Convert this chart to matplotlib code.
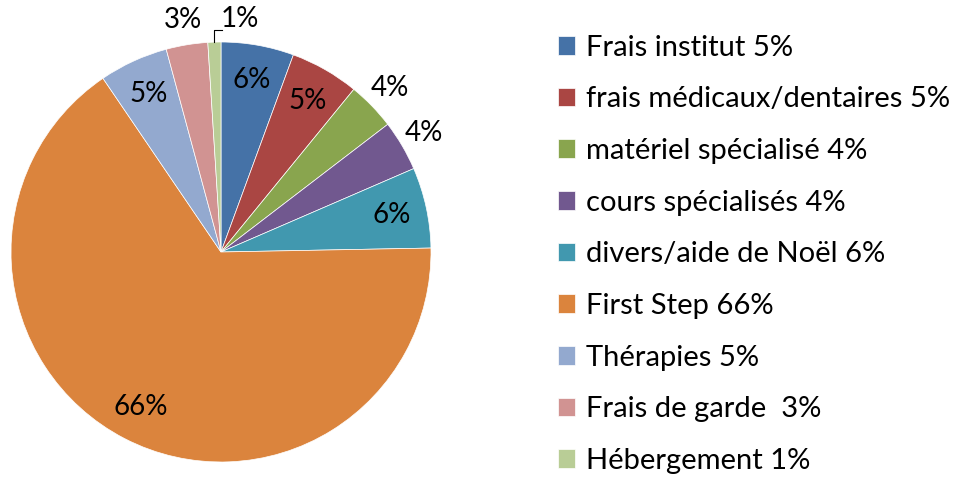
import numpy as np
import matplotlib
matplotlib.use('Agg')
import matplotlib.pyplot as plt

plt.rcParams['font.family'] = ['Lato', 'DejaVu Sans']

postes = ['Frais institut 5%', 'frais médicaux/dentaires 5%', 'matériel spécialisé 4%',
          'cours spécialisés 4%', 'divers/aide de Noël 6%', 'First Step 66%',
          'Thérapies 5%', 'Frais de garde  3%', 'Hébergement 1%']
parts = [5.6, 5.3, 3.7, 3.9, 6.2, 65.8, 5.3, 3.2, 1.0]
couleurs = ['#4572A7', '#AA4643', '#89A54E', '#71588F', '#4198AF',
            '#DB843D', '#93A9CF', '#D19392', '#B9CD96']
# etiquettes hors du camembert pour les petites parts
dehors = [False, False, True, True, False, False, False, True, True]

W, H = 971, 479
fig = plt.figure(figsize=(W / 100, H / 100), dpi=100)
cx, cy, r = 221, 252, 210
ax = fig.add_axes([(cx - r) / W, (H - cy - r) / H, 2 * r / W, 2 * r / H])

wedges, _ = ax.pie(parts, colors=couleurs, startangle=90, counterclock=False,
                   radius=1, wedgeprops=dict(edgecolor='white', linewidth=0.5))
ax.set_xlim(-1, 1)
ax.set_ylim(-1, 1)
ax.set_aspect('equal')
ax.axis('off')

total = sum(parts)
for i, w in enumerate(wedges):
    ang = np.deg2rad((w.theta1 + w.theta2) / 2)
    txt = '%d%%' % round(100 * parts[i] / total)
    if i == len(wedges) - 1:
        # petite part : trait de rappel vers le haut
        x0, y0 = np.cos(ang), np.sin(ang)
        ax.plot([x0, x0, x0 + 0.035], [y0, y0 + 0.06, y0 + 0.06],
                color='black', lw=0.8, clip_on=False)
        ax.text(x0 + 0.03, y0 + 0.11, txt, ha='left', va='center', fontsize=20)
        continue
    d = 1.12 if dehors[i] else 0.83
    ax.text(d * np.cos(ang), d * np.sin(ang), txt, ha='center', va='center',
            fontsize=20)

fig.legend(wedges, postes, loc='upper left', bbox_to_anchor=(546 / W, 1 - 23 / H),
           frameon=False, fontsize=21, handlelength=0.6, handleheight=0.6,
           handletextpad=0.38, labelspacing=0.88, borderaxespad=0)

fig.savefig('out.png', dpi=100)
